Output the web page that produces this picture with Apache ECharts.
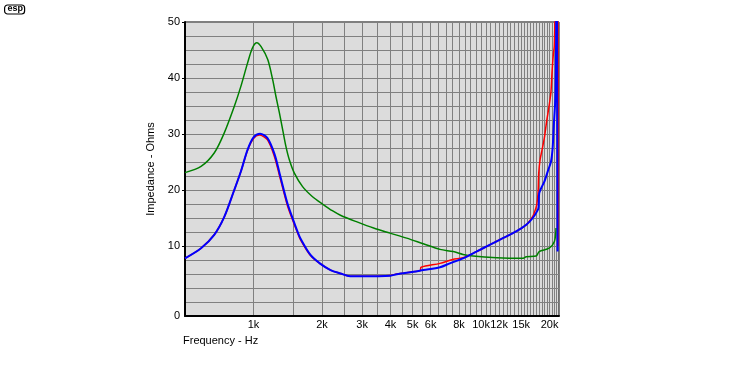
<!DOCTYPE html>
<html>
<head>
<meta charset="utf-8">
<script src="https://cdn.jsdelivr.net/npm/echarts@6/dist/echarts.min.js"></script>
<style>html,body{margin:0;padding:0;background:#fff}#c{width:740px;height:370px}</style>
</head>
<body>
<div id="c"></div>
<script>
// ---- data (Hz, Ohms) ----
const greenFreq = [500,588,672,744,823,880,942,990,1034,1080,1155,1214,1255,1299,1343,1388,1437,1512,1643,1817,2010,2220,2410,2850,3370,3980,4710,5570,6600,7540,8330,9220,11700,15200,15800,17450,18000,19900,21000,21350];
const greenOhms = [23.1,24.2,26.6,30.2,34.9,38.5,42.7,45.4,46.3,45.6,43.3,39.7,36.7,33.8,30.8,27.8,25.4,23.0,20.6,18.8,17.5,16.3,15.5,14.3,13.2,12.3,11.4,10.4,9.4,9.0,8.5,8.2,7.9,7.8,8.07,8.2,9.0,9.6,10.8,13.2];

const redFreq = [500,588,672,744,823,880,942,1000,1060,1150,1235,1300,1343,1410,1490,1560,1610,1780,1970,2180,2410,2660,3000,4000,4260,5040,5400,5450,6600,7500,8330,9540,10900,12470,14260,15800,16870,17200,17550,17800,17920,18170,18540,18970,19420,19950,20290,20500,20770,20980,21130,21300,21700,21800];
const redOhms = [7.8,9.6,12.0,15.2,20.0,23.3,27.1,29.2,29.8,29.0,26.0,22.6,20.4,17.2,14.5,12.4,11.1,8.3,6.8,5.7,5.1,4.6,4.6,4.75,5.0,5.4,5.6,6.2,6.9,7.6,7.9,9.0,10.2,11.4,12.6,13.8,15.3,16.1,17.3,19.5,23.0,25.4,27.2,29.3,32.3,35.3,37.6,41.0,44.2,45.7,52,70,70,9.9];

const blueFreq = [500,588,672,744,823,880,942,1000,1069,1150,1235,1300,1343,1410,1490,1560,1610,1780,1970,2180,2410,2660,3000,4000,4260,5040,5570,6600,7290,8330,9540,10900,12470,14260,15800,16870,17740,17900,18000,18350,18970,19700,20290,20630,20840,21200,21350,21500,21650,21690];
const blueOhms = [7.8,9.6,12.0,15.2,20.0,23.3,27.2,29.4,30.06,29.3,26.5,23.1,20.8,17.6,14.8,12.6,11.3,8.4,6.8,5.7,5.1,4.6,4.6,4.7,4.97,5.4,5.7,6.2,6.9,7.8,9.0,10.2,11.4,12.6,13.8,15.0,16.4,17.0,19.4,20.3,21.5,23.5,25.1,27.5,31.1,36.4,45.4,70,70,9.0];

const freqLabels = [1000,2000,3000,4000,5000,6000,8000,10000,12000,15000,20000];
const ohmLabels = [-2.5,10,20,30,40,50];
const ohmTicks = [10,20,30,40,50];

const freqGrid = [];
for (let f = 500; f <= 22000; f += 500) freqGrid.push(f);

function pairs(xs, ys) { return xs.map((x, i) => [x, ys[i]]); }

const FONT = '"Liberation Sans", Arial, sans-serif';
const chart = echarts.init(document.getElementById('c'), null, {renderer: 'canvas'});
const lineBase = {type: 'line', showSymbol: false, symbol: 'none', smooth: 0.3};
chart.setOption({
  animation: false,
  backgroundColor: '#ffffff',
  textStyle: {fontFamily: FONT},
  grid: {
    left: 185, top: 22, width: 374, height: 294,
    show: true, backgroundColor: '#dcdcdc', borderColor: '#000', borderWidth: 1
  },
  xAxis: {
    type: 'log', logBase: 10, min: 500, max: 22000,
    axisLine: {show: true, onZero: false, lineStyle: {color: '#000', width: 2}},
    axisTick: {show: false, customValues: freqGrid},
    splitLine: {show: true, lineStyle: {color: '#808080', width: 1}},
    minorSplitLine: {show: false},
    axisLabel: {
      customValues: freqLabels, color: '#000', fontSize: 11, margin: 3, fontFamily: FONT,
      formatter: v => (v / 1000) + 'k'
    }
  },
  yAxis: [{
    type: 'value', min: -2.5, max: 50, interval: 2.5,
    axisLine: {show: true, onZero: false, lineStyle: {color: '#000', width: 2}},
    axisTick: {show: false},
    splitLine: {show: true, lineStyle: {color: '#808080', width: 1}},
    axisLabel: {
      customValues: ohmLabels, color: '#000', fontSize: 11, margin: 5, fontFamily: FONT,
      formatter: v => (v < 0 ? '0' : String(v))
    },
    name: 'Impedance - Ohms', nameLocation: 'middle', nameGap: 29,
    nameTextStyle: {color: '#000', fontSize: 11, fontFamily: FONT}
  }, {
    type: 'value', min: -2.5, max: 50, position: 'left',
    axisLine: {show: false, onZero: false},
    axisTick: {show: true, inside: false, length: 3, customValues: ohmTicks, lineStyle: {color: '#000'}},
    splitLine: {show: false},
    axisLabel: {show: false}
  }],
  graphic: [
    {type: 'text', left: 183, top: 335, style: {text: 'Frequency - Hz', fill: '#000', font: '11px ' + FONT}},
    {type: 'group', left: 4, top: 4, children: [
      {type: 'rect', shape: {x: 0, y: 0, width: 20, height: 9, r: 3}, style: {fill: '#fff', stroke: '#000', lineWidth: 1.2}},
      {type: 'text', x: 3, y: -1, style: {text: 'esp', fill: '#000', font: 'bold 9px ' + FONT}}
    ]}
  ],
  series: [
    Object.assign({name: 'green', data: pairs(greenFreq, greenOhms),
     lineStyle: {color: '#008000', width: 1.5}, itemStyle: {color: '#008000'}}, lineBase),
    Object.assign({name: 'red', data: pairs(redFreq, redOhms),
     lineStyle: {color: '#ff0000', width: 1.5}, itemStyle: {color: '#ff0000'}}, lineBase),
    Object.assign({name: 'blue', data: pairs(blueFreq, blueOhms),
     lineStyle: {color: '#0000ff', width: 2}, itemStyle: {color: '#0000ff'}}, lineBase)
  ]
});
</script>
</body>
</html>
